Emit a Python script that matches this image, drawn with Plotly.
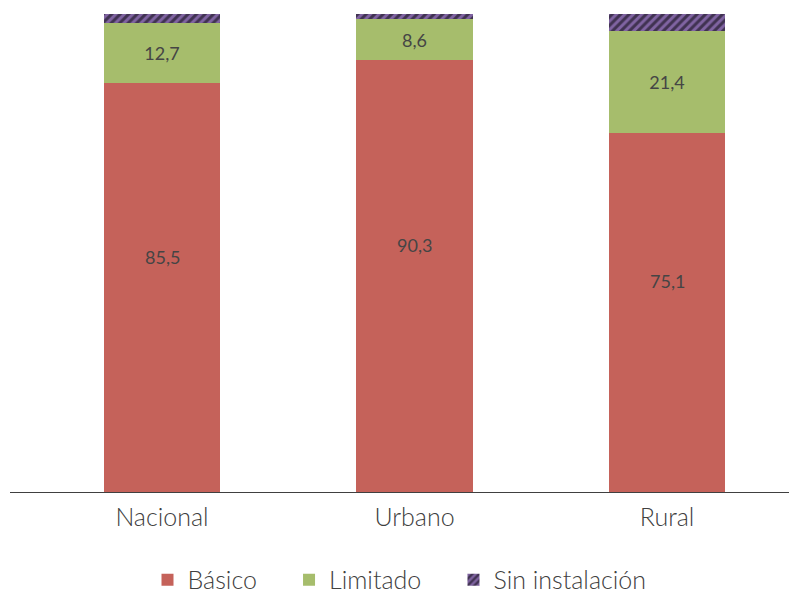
import plotly.graph_objects as go

# Share of population by water service level (%)
categories = ["Nacional", "Urbano", "Rural"]
basico = [85.5, 90.3, 75.1]
limitado = [12.7, 8.6, 21.4]
sin_instalacion = [1.8, 1.1, 3.5]

fmt = lambda v: f"{v:.1f}".replace(".", ",")
font_family = "Lato, 'Open Sans', sans-serif"
text_color = "#404040"
label_font = dict(size=18, color="#454545", family=font_family)
pad = "\u00a0" * 4  # extra room between legend entries

fig = go.Figure()
fig.add_trace(go.Bar(
    name="Básico" + pad, x=categories, y=basico,
    marker=dict(color="#c5625a", line=dict(width=0)),
))
fig.add_trace(go.Bar(
    name="Limitado" + pad, x=categories, y=limitado,
    marker=dict(color="#a6bd6c", line=dict(width=0)),
    text=[fmt(v) for v in limitado], textposition="inside",
    insidetextanchor="middle", textfont=label_font,
))
fig.add_trace(go.Bar(
    name="Sin instalación", x=categories, y=sin_instalacion,
    marker=dict(color="#8064a2", line=dict(width=0),
                pattern=dict(shape="/", fgcolor="#000000", bgcolor="#8064a2",
                             size=6, solidity=0.5)),
    hoverinfo="skip",
))

# Basic-level labels sit a little above the middle of their segment
for cat, v in zip(categories, basico):
    fig.add_annotation(x=cat, y=v / 2 + 6.5, text=fmt(v), showarrow=False,
                       font=label_font, xref="x", yref="y")

fig.update_layout(
    barmode="stack",
    bargap=0.54,
    width=789, height=593,
    margin=dict(l=10, r=0, t=14, b=101, autoexpand=False),
    paper_bgcolor="white", plot_bgcolor="white",
    font=dict(family=font_family, color=text_color, size=21),
    showlegend=True,
    legend=dict(orientation="h", x=0.5, xanchor="center",
                yref="container", y=0.022, yanchor="middle",
                font=dict(size=25, color=text_color, weight=300),
                traceorder="normal", itemwidth=30),
    uniformtext=dict(mode="show", minsize=10),
)
fig.update_xaxes(
    range=[-0.602, 2.483], showline=True, linecolor="#404040", linewidth=1,
    ticks="", ticklabelstandoff=3,
    tickfont=dict(size=25, color=text_color, weight=300), showgrid=False,
)
fig.update_yaxes(range=[0, 100], visible=False, showgrid=False)

fig.write_html("out.html")
